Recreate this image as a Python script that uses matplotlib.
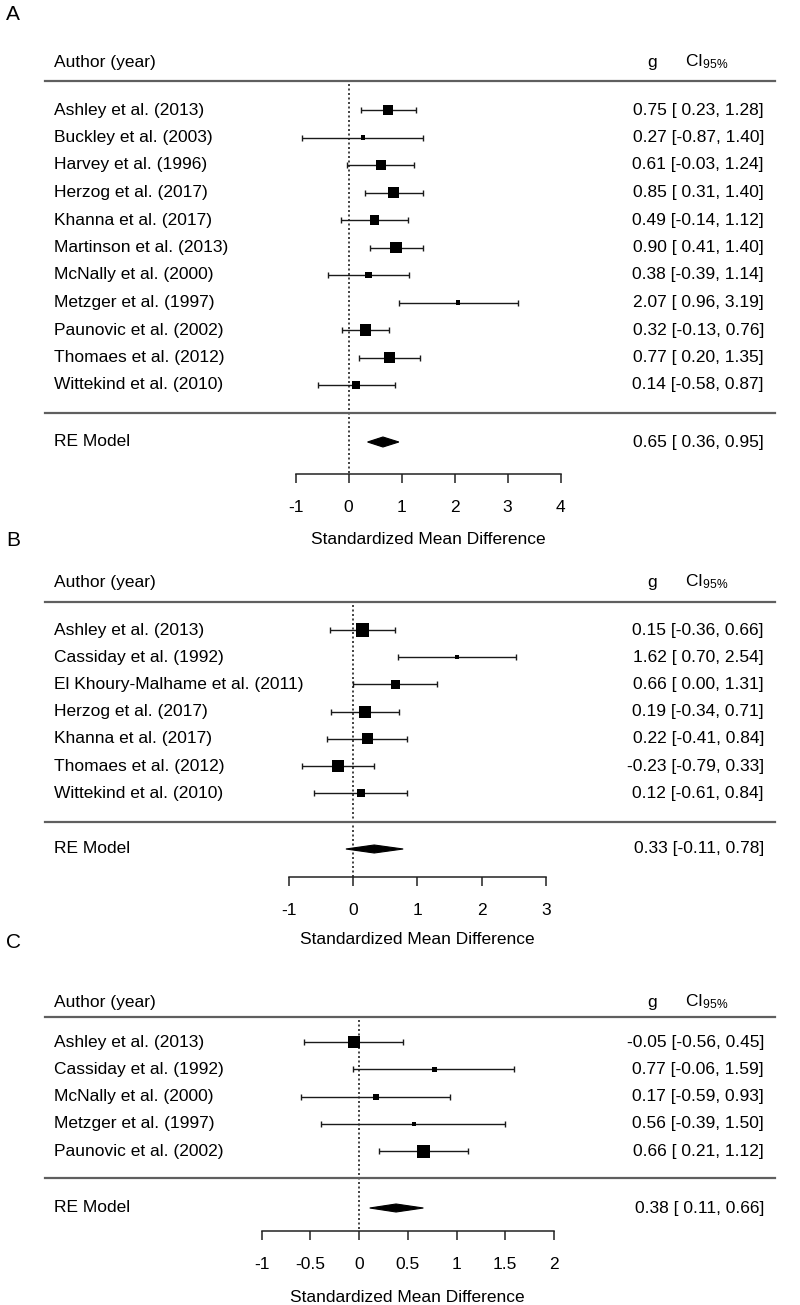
import numpy as np
import matplotlib
matplotlib.use('Agg')
import matplotlib.pyplot as plt

plt.rcParams['font.family'] = ['Liberation Sans', 'DejaVu Sans']
plt.rcParams['mathtext.fontset'] = 'custom'
plt.rcParams['mathtext.rm'] = 'Liberation Sans'
plt.rcParams['mathtext.it'] = 'Liberation Sans:italic'
plt.rcParams['axes.unicode_minus'] = False

W, H = 800, 1305
FS = 12.5

# ---- data ----
a_studies = ['Ashley et al. (2013)', 'Buckley et al. (2003)', 'Harvey et al. (1996)',
             'Herzog et al. (2017)', 'Khanna et al. (2017)', 'Martinson et al. (2013)',
             'McNally et al. (2000)', 'Metzger et al. (1997)', 'Paunovic et al. (2002)',
             'Thomaes et al. (2012)', 'Wittekind et al. (2010)']
a_g = [0.75, 0.27, 0.61, 0.85, 0.49, 0.90, 0.38, 2.07, 0.32, 0.77, 0.14]
a_lo = [0.23, -0.87, -0.03, 0.31, -0.14, 0.41, -0.39, 0.96, -0.13, 0.20, -0.58]
a_hi = [1.28, 1.40, 1.24, 1.40, 1.12, 1.40, 1.14, 3.19, 0.76, 1.35, 0.87]
a_weight = [9.3, 4, 8.7, 10, 8.7, 10.7, 5.7, 4, 10.7, 10, 6.7]
a_re = [0.65, 0.36, 0.95]
a_ticks = [-1, 0, 1, 2, 3, 4]

b_studies = ['Ashley et al. (2013)', 'Cassiday et al. (1992)',
             'El Khoury-Malhame et al. (2011)', 'Herzog et al. (2017)',
             'Khanna et al. (2017)', 'Thomaes et al. (2012)', 'Wittekind et al. (2010)']
b_g = [0.15, 1.62, 0.66, 0.19, 0.22, -0.23, 0.12]
b_lo = [-0.36, 0.70, 0.00, -0.34, -0.41, -0.79, -0.61]
b_hi = [0.66, 2.54, 1.31, 0.71, 0.84, 0.33, 0.84]
b_weight = [12, 4, 8.7, 10.7, 10, 11.3, 7.3]
b_re = [0.33, -0.11, 0.78]
b_ticks = [-1, 0, 1, 2, 3]

c_studies = ['Ashley et al. (2013)', 'Cassiday et al. (1992)', 'McNally et al. (2000)',
             'Metzger et al. (1997)', 'Paunovic et al. (2002)']
c_g = [-0.05, 0.77, 0.17, 0.56, 0.66]
c_lo = [-0.56, -0.06, -0.59, -0.39, 0.21]
c_hi = [0.45, 1.59, 0.93, 1.50, 1.12]
c_weight = [11, 4.5, 5.5, 3.5, 11.5]
c_re = [0.38, 0.11, 0.66]
c_ticks = [-1, -0.5, 0, 0.5, 1, 1.5, 2]
c_ticklabels = ['-1', '-0.5', '0', '0.5', '1', '1.5', '2']

fig = plt.figure(figsize=(W / 100, H / 100), dpi=100)


def fmt(g, lo, hi):
    return f'{g:.2f} [{lo:5.2f}, {hi:.2f}]'


def forest(letter, studies, g, lo, hi, weight, re, ticks, lay, ticklabels=None):
    # lay: pixel layout of the panel
    top, bot = lay['top'], lay['bot']
    row0, sp = lay['row0'], lay['sp']
    x0, unit = lay['x0'], lay['unit']

    def r(py):
        return (py - row0) / sp

    ax = fig.add_axes([0, 1 - bot / H, 1, (bot - top) / H])
    ax.set_xlim(-x0 / unit, (W - x0) / unit)
    ax.set_ylim(r(bot), r(top))
    ax.patch.set_alpha(0)
    for s in ['top', 'left', 'right']:
        ax.spines[s].set_visible(False)
    ax.set_yticks([])

    tr = ax.get_yaxis_transform()
    rows = np.arange(len(studies))
    g = np.array(g)
    lo = np.array(lo)
    hi = np.array(hi)

    fig.text(6 / W, 1 - lay['letter'] / H, letter, fontsize=15, va='center', ha='left')

    # header
    ax.text(54 / W, r(lay['head']), 'Author (year)', fontsize=FS, va='center', transform=tr)
    ax.text(652 / W, r(lay['head']), 'g', fontsize=FS, va='center', ha='center', transform=tr)
    ax.text(685 / W, r(lay['head']), r'CI$_{\mathrm{95\%}}$', fontsize=FS, va='center', transform=tr)

    # separator lines
    for py in (lay['line1'], lay['line2']):
        ax.plot([45 / W, 775 / W], [r(py), r(py)], color='#5f5f5f', lw=1.6,
                transform=tr, clip_on=False)

    # reference line at 0
    ax.plot([0, 0], [r(lay['line1'] + 3), r(lay['axis'])], color='#222222',
            lw=1.2, ls=(0, (1.2, 1.5)), zorder=1)

    # studies
    ax.errorbar(g, rows, xerr=[g - lo, hi - g], fmt='none', ecolor='#1a1a1a',
                elinewidth=1.0, capsize=2.4, capthick=1.0, zorder=2)
    ax.scatter(g, rows, marker='s', s=(np.array(weight) * 0.8) ** 2,
               color='black', linewidths=0, zorder=3)
    for i, name in enumerate(studies):
        ax.text(54 / W, i, name, fontsize=FS, va='center', transform=tr)
        ax.text(764 / W, i, fmt(g[i], lo[i], hi[i]), fontsize=FS, va='center',
                ha='right', transform=tr)

    # RE model
    yre = r(lay['re'])
    h = lay['dh'] / sp
    ax.fill([re[1], re[0], re[2], re[0]], [yre, yre - h, yre, yre + h],
            color='black', lw=0.8, zorder=3)
    ax.text(54 / W, yre, 'RE Model', fontsize=FS, va='center', transform=tr)
    ax.text(764 / W, yre, fmt(*re), fontsize=FS, va='center', ha='right', transform=tr)

    # x axis
    ax.spines['bottom'].set_position(('data', r(lay['axis'])))
    ax.spines['bottom'].set_bounds(ticks[0], ticks[-1])
    ax.spines['bottom'].set_linewidth(1.1)
    ax.spines['bottom'].set_color('#222222')
    ax.set_xticks(ticks)
    if ticklabels is not None:
        ax.set_xticklabels(ticklabels)
    ax.tick_params(axis='x', direction='out', length=6.5, width=1.1,
                   color='#222222', pad=12, labelsize=FS)
    ax.text((ticks[0] + ticks[-1]) / 2, r(lay['xlab']), 'Standardized Mean Difference',
            fontsize=FS, ha='center', va='center', clip_on=False)
    return ax


lay_a = dict(letter=14, top=40, bot=480, head=62, line1=81, row0=110, sp=27.5,
             line2=413, re=442, axis=474, xlab=540, x0=348.5, unit=53.0, dh=5)
lay_b = dict(letter=541, top=565, bot=885, head=582, line1=602, row0=630, sp=27.2,
             line2=822, re=849, axis=877, xlab=940, x0=353, unit=64.3, dh=4)
lay_c = dict(letter=942, top=985, bot=1240, head=1002, line1=1017, row0=1042, sp=27.3,
             line2=1178, re=1208, axis=1231, xlab=1297, x0=359, unit=97.5, dh=4)

forest('A', a_studies, a_g, a_lo, a_hi, a_weight, a_re, a_ticks, lay_a)
forest('B', b_studies, b_g, b_lo, b_hi, b_weight, b_re, b_ticks, lay_b)
forest('C', c_studies, c_g, c_lo, c_hi, c_weight, c_re, c_ticks, lay_c, c_ticklabels)

fig.savefig('out.png', dpi=100)
